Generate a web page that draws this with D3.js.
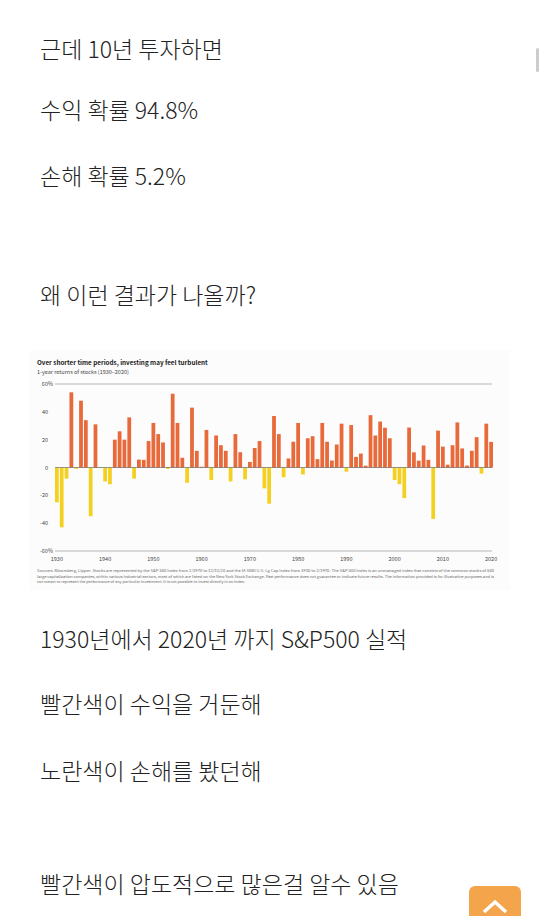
<!DOCTYPE html>
<html><head><meta charset="utf-8">
<script src="https://cdn.jsdelivr.net/npm/d3@7"></script>
<style>body{margin:0;background:#fff;overflow:hidden}</style>
</head><body><svg id="c" width="540" height="916"></svg>
<script>
// post text lines
const lines = ["근데 10년 투자하면", "수익 확률 94.8%", "손해 확률 5.2%", "왜 이런 결과가 나올까?",
  "1930년에서 2020년 까지 S&P500 실적", "빨간색이 수익을 거둔해", "노란색이 손해를 봤던해", "빨간색이 압도적으로 많은걸  알수 있음"];
const lineY = [58, 119, 185, 304, 648, 713, 780, 893];

// chart data
const years = d3.range(1930, 2021);
const returns = [-25, -43, -8, 54, -1, 48, 34, -35, 31, -0.4,
  -10, -12, 20, 26, 20, 36, -8, 5.7, 5.5, 19,
  32, 24, 18, -1, 53, 32, 7, -11, 43, 12,
  0.5, 27, -9, 23, 16, 12, -10, 24, 11, -8.5,
  4, 14, 19, -15, -26, 37, 24, -7, 6.5, 18.5,
  32, -5, 21, 22.5, 6, 32, 18.5, 5, 16.5, 31.5,
  -3, 30.5, 7.6, 10, 1.3, 37.6, 23, 33, 28.6, 21,
  -9, -12, -22, 28.7, 10.9, 4.9, 15.8, 5.5, -37, 26.5,
  15, 2, 16, 32.4, 13.7, 1.4, 12, 21.8, -4.4, 31.5, 18.4];
const yTicks = [-60, -40, -20, 0, 20, 40, 60];
const xTicks = [1930, 1940, 1950, 1960, 1970, 1980, 1990, 2000, 2010, 2020];

const svg = d3.select("#c");
const font = "'Noto Sans CJK KR', 'Noto Sans', sans-serif";

svg.selectAll(".line").data(lines).enter().append("text")
  .attr("x", 40).attr("y", (d, i) => lineY[i])
  .attr("font-family", font).attr("font-size", 23).attr("font-weight", 300).attr("fill", "#222")
  .text(d => d);

// chart panel
svg.append("rect").attr("x", 30).attr("y", 350).attr("width", 480).attr("height", 240).attr("fill", "#fcfcfc");
svg.append("text").attr("x", 37).attr("y", 365).attr("font-family", font).attr("font-size", 6.3)
  .attr("font-weight", "bold").attr("fill", "#222").text("Over shorter time periods, investing may feel turbulent");
svg.append("text").attr("x", 37).attr("y", 374).attr("font-family", font).attr("font-size", 5.5)
  .attr("fill", "#444").text("1-year returns of stocks (1930–2020)");

const x = d3.scaleBand().domain(years).range([55, 493]).paddingInner(0.22);
const y = d3.scaleLinear().domain([-60, 60]).range([551, 384]);

const g = svg.append("g");
g.selectAll(".grid").data([60, -60]).enter().append("line")
  .attr("x1", 55).attr("x2", 492).attr("y1", d => y(d)).attr("y2", d => y(d))
  .attr("stroke", "#999").attr("stroke-width", 0.7);
g.selectAll(".yl").data(yTicks).enter().append("text")
  .attr("x", d => Math.abs(d) === 60 ? 53 : 48).attr("y", d => y(d) + 2)
  .attr("text-anchor", "end").attr("font-family", font).attr("font-size", 5.5).attr("fill", "#444")
  .text(d => Math.abs(d) === 60 ? d + "%" : d);

g.selectAll(".bar").data(returns).enter().append("rect")
  .attr("x", (d, i) => x(years[i])).attr("width", x.bandwidth())
  .attr("y", d => y(Math.max(0, d))).attr("height", d => Math.abs(y(d) - y(0)))
  .attr("fill", d => d >= 0 ? "#e8693a" : "#f4d120");
g.append("line").attr("x1", 55).attr("x2", 492).attr("y1", y(0)).attr("y2", y(0))
  .attr("stroke", "#555").attr("stroke-width", 0.6);

g.selectAll(".xl").data(xTicks).enter().append("text")
  .attr("x", d => x(d) + x.bandwidth() / 2).attr("y", 561)
  .attr("text-anchor", "middle").attr("font-family", font).attr("font-size", 5.5).attr("fill", "#444")
  .text(d => d);

const notes = ["Sources: Bloomberg, Lipper. Stocks are represented by the S&P 500 Index from 2/1970 to 12/31/20 and the IA SBBI U.S. Lg Cap Index from 1930 to 2/1970. The S&P 500 Index is an unmanaged index that consists of the common stocks of 500",
  "large capitalization companies, within various industrial sectors, most of which are listed on the New York Stock Exchange. Past performance does not guarantee or indicate future results. The information provided is for illustrative purposes and is",
  "not meant to represent the performance of any particular investment. It is not possible to invest directly in an index."];
svg.selectAll(".note").data(notes).enter().append("text")
  .attr("x", 37).attr("y", (d, i) => 572 + i * 5.5)
  .attr("font-family", font).attr("font-size", 3.6).attr("fill", "#666")
  .attr("textLength", (d, i) => i === 2 ? 208 : 457).attr("lengthAdjust", "spacingAndGlyphs")
  .text(d => d);

// scrollbar and top button
svg.append("rect").attr("x", 536).attr("y", 48).attr("width", 3).attr("height", 24).attr("rx", 1.5).attr("fill", "#ccc");
svg.append("rect").attr("x", 469).attr("y", 886).attr("width", 52).attr("height", 40).attr("rx", 6).attr("fill", "#f4a54b");
svg.append("path").attr("d", "M484,912 L495,902 L506,912").attr("fill", "none")
  .attr("stroke", "#fff").attr("stroke-width", 3.5);
</script></body></html>
